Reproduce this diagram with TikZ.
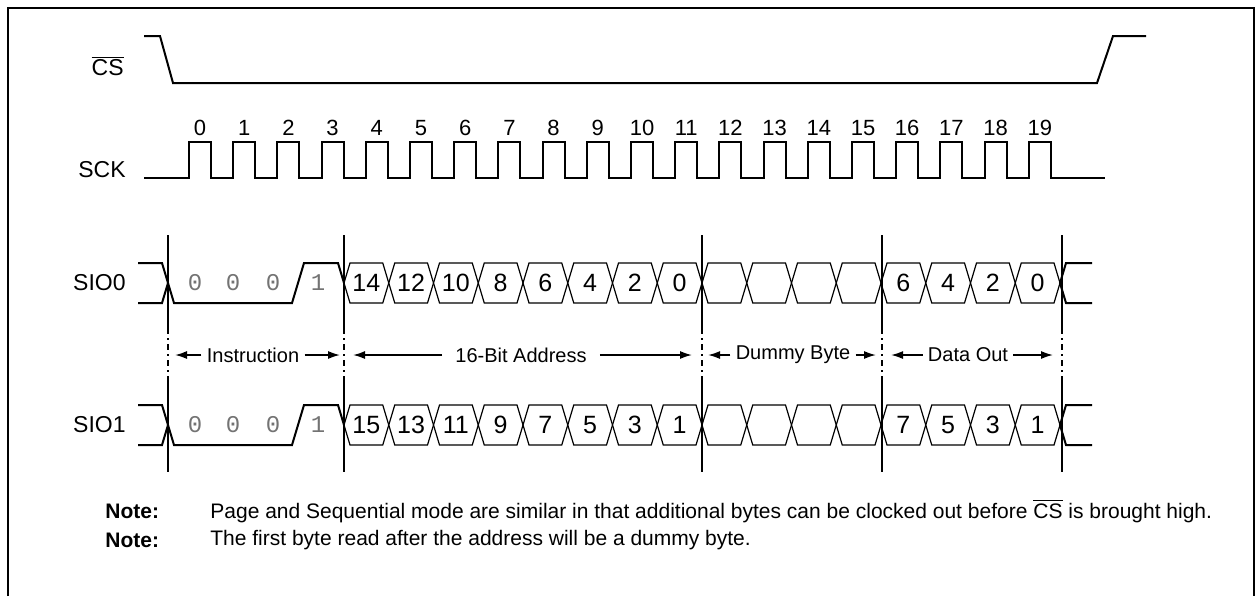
\documentclass[tikz,border=0pt]{standalone}
\usepackage{fontspec}
\setmainfont{Liberation Sans}
\newfontfamily\bitfont{Liberation Mono}
\usetikzlibrary{arrows.meta, positioning, calc}

\begin{document}
\begin{tikzpicture}[x=0.5pt, y=-0.5pt, >={Latex[length=6pt,width=4pt]},
    sig/.style={line width=1pt},
    cell/.style={line width=0.6pt},
    lbl/.style={anchor=east, inner sep=0pt, font=\fontsize{11.5}{13}\selectfont},
    clk/.style={inner sep=0pt, font=\fontsize{11}{13}\selectfont},
    digit/.style={inner sep=0pt, font=\fontsize{12.5}{14}\selectfont},
    bit/.style={inner sep=0pt, text=black!55, font=\bitfont\fontsize{12}{14}\selectfont},
    span/.style={inner ysep=0pt, inner xsep=2.5pt, font=\fontsize{10}{12}\selectfont},
    note/.style={anchor=west, inner sep=0pt, font=\fontsize{10.5}{12}\selectfont}]

    \useasboundingbox (0,0) rectangle (1256,596);
    % Frame
    \draw[line width=1pt] (8,596) -- (8,8) -- (1254,8) -- (1254,596);

    % Nodes
    \node[lbl] (cs) at (124,66) {$\overline{\hbox{CS}}$};
    \node[lbl] (sck) at (126,170) {SCK};
    \node[lbl] (sio0) at (126,283) {SIO0};
    \node[lbl] (sio1) at (126,425) {SIO1};

    % Chip select and clock
    \draw[sig] (144,36) -- (160,36) -- (173,83) -- (1097,83) -- (1113,36) -- (1146,36);
    \draw[sig] (144,178) \foreach \i in {0,...,19} {
        -- ({189+44.2*\i},178) -- ({189+44.2*\i},142) -- ({211+44.2*\i},142) -- ({211+44.2*\i},178)
    } -- (1105,178);
    \foreach \i in {0,...,19}
        \node[clk] (n\i) at ({200+44.2*\i},128) {\i};

    % Data lines
    \foreach \yy in {283,425} {
        \draw[sig] (138,\yy-20) -- (162,\yy-20) -- (174,\yy+20) -- (292,\yy+20) -- (304,\yy-20) -- (338,\yy-20) -- (344,\yy);
        \draw[sig] (138,\yy+20) -- (162,\yy+20) -- (168,\yy);
        \foreach \k in {0,...,15} {
            \pgfmathsetmacro\xa{344+44.75*\k}
            \pgfmathsetmacro\xb{\xa+44.75}
            \draw[cell] (\xa,\yy) -- (\xa+6,\yy-20) -- (\xb-6,\yy-20) -- (\xb,\yy) -- (\xb-6,\yy+20) -- (\xa+6,\yy+20) -- cycle;
        }
        \draw[sig] (1092,\yy-20) -- (1066,\yy-20) -- (1060,\yy) -- (1066,\yy+20) -- (1092,\yy+20);
        \foreach \bx/\bv in {195/0,233/0,273/0,318/1}
            \node[bit] at (\bx,\yy) {\bv};
    }
    \foreach \v [count=\k from 0] in {14,12,10,8,6,4,2,0}
        \node[digit] (a\k) at ({344+44.75*(\k+0.5)},283) {\v};
    \foreach \v [count=\k from 12] in {6,4,2,0}
        \node[digit] (d\k) at ({344+44.75*(\k+0.5)},283) {\v};
    \foreach \v [count=\k from 0] in {15,13,11,9,7,5,3,1}
        \node[digit] (b\k) at ({344+44.75*(\k+0.5)},425) {\v};
    \foreach \v [count=\k from 12] in {7,5,3,1}
        \node[digit] (e\k) at ({344+44.75*(\k+0.5)},425) {\v};

    % Phase markers
    \foreach \x [count=\m] in {168,344,702,882,1062} {
        \coordinate (m\m) at (\x,355);
        \draw[sig] (\x,235) -- (\x,328);
        \draw[sig, dash pattern=on 3pt off 2pt on 1pt off 2pt] (\x,328) -- (\x,378);
        \draw[sig] (\x,378) -- (\x,472);
    }

    % Phase spans
    \node[span] (instr) at (253,355) {Instruction};
    \node[span, inner xsep=6.5pt] (addr) at (521,355) {16-Bit Address};
    \node[span] (dummy) at (793,355) {Dummy Byte};
    \node[span] (dout) at (968,355) {Data Out};
    \draw[->, line width=0.8pt] (instr.west) -- ($(m1)+(7,0)$);
    \draw[->, line width=0.8pt] (instr.east) -- ($(m2)+(-4,0)$);
    \draw[->, line width=0.8pt] (addr.west) -- ($(m2)+(9,0)$);
    \draw[->, line width=0.8pt] (addr.east) -- ($(m3)+(-10,0)$);
    \draw[->, line width=0.8pt] (dummy.west) -- ($(m3)+(6,0)$);
    \draw[->, line width=0.8pt] (dummy.east) -- ($(m4)+(-6,0)$);
    \draw[->, line width=0.8pt] (dout.west) -- ($(m4)+(9,0)$);
    \draw[->, line width=0.8pt] (dout.east) -- ($(m5)+(-9,0)$);

    % Notes
    \node[note, font=\bfseries\fontsize{10.5}{12}\selectfont] (note1) at (105,511) {Note:};
    \node[note] (text1) at (210,511) {Page and Sequential mode are similar in that additional bytes can be clocked out before $\overline{\hbox{CS}}$ is brought high.};
    \node[note, font=\bfseries\fontsize{10.5}{12}\selectfont] (note2) at (105,540) {Note:};
    \node[note] (text2) at (210,540) {The first byte read after the address will be a dummy byte.};
\end{tikzpicture}
\end{document}
